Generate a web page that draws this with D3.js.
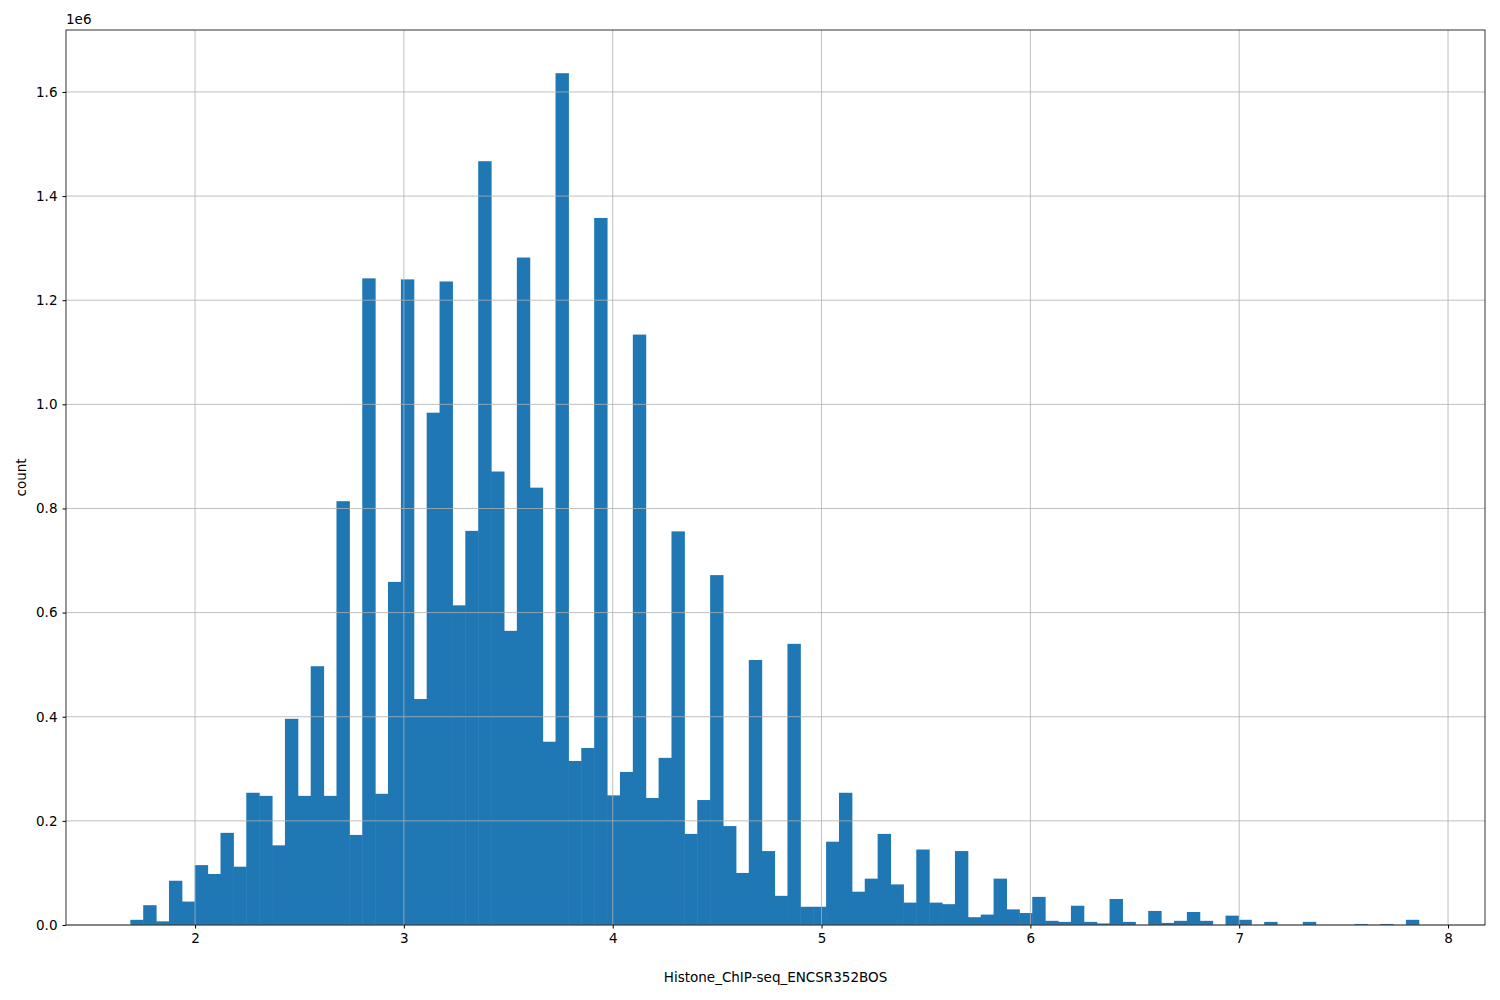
<!DOCTYPE html>
<html><head><meta charset="utf-8">
<script src="https://cdn.jsdelivr.net/npm/d3@7"></script>
<style>body{margin:0;background:#fff}text{font-family:"DejaVu Sans",sans-serif;font-size:13.5px}</style>
</head><body>
<svg width="1500" height="1000"></svg>
<script>
// histogram, 100 bins from binStart to binEnd; counts in millions
var binStart = 1.69;
var binEnd = 7.86;
var counts = [0.010,0.038,0.007,0.085,0.045,0.115,0.098,0.177,0.112,0.254,
  0.248,0.153,0.396,0.248,0.497,0.248,0.814,0.173,1.242,0.252,
  0.659,1.240,0.434,0.984,1.236,0.614,0.757,1.467,0.871,0.565,
  1.282,0.840,0.352,1.636,0.315,0.340,1.358,0.249,0.294,1.134,
  0.244,0.321,0.756,0.175,0.240,0.672,0.190,0.100,0.509,0.142,
  0.056,0.540,0.035,0.035,0.160,0.254,0.064,0.089,0.175,0.078,
  0.043,0.145,0.043,0.040,0.142,0.015,0.020,0.089,0.030,0.023,
  0.054,0.008,0.006,0.037,0.006,0.003,0.050,0.006,0,0.027,
  0.004,0.008,0.025,0.008,0,0.018,0.010,0,0.006,0,
  0,0.006,0,0,0,0.002,0,0.002,0,0.010];
var xTicks = [2,3,4,5,6,7,8];
var yTicks = [0,0.2,0.4,0.6,0.8,1.0,1.2,1.4,1.6];

var svg = d3.select('svg');
var mLeft = 66, mRight = 1485, mTop = 30, mBottom = 925;
var binWidth = (binEnd - binStart) / counts.length;

var x = d3.scaleLinear().domain([1.382, 8.177]).range([mLeft, mRight]);
var y = d3.scaleLinear().domain([0, 1.719]).range([mBottom, mTop]);

var bins = counts.map(function(c, i) {
  return {x0: binStart + i * binWidth, x1: binStart + (i + 1) * binWidth, v: c};
});

svg.append('g').selectAll('rect').data(bins).enter().append('rect')
  .attr('x', function(d) { return x(d.x0); })
  .attr('width', function(d) { return x(d.x1) - x(d.x0) + 0.5; })
  .attr('y', function(d) { return y(d.v); })
  .attr('height', function(d) { return mBottom - y(d.v); })
  .attr('fill', '#1f77b4');

// grid drawn over bars like matplotlib hist defaults
var grid = svg.append('g').attr('stroke', '#b0b0b0').attr('stroke-width', 0.8);
grid.selectAll('.gx').data(xTicks).enter().append('line')
  .attr('x1', x).attr('x2', x).attr('y1', mTop).attr('y2', mBottom);
grid.selectAll('.gy').data(yTicks).enter().append('line')
  .attr('y1', y).attr('y2', y).attr('x1', mLeft).attr('x2', mRight);

var xAxis = svg.append('g').attr('transform', 'translate(0,' + mBottom + ')')
  .call(d3.axisBottom(x).tickValues(xTicks).tickSize(3.5).tickPadding(5).tickFormat(d3.format('d')));
var yAxis = svg.append('g').attr('transform', 'translate(' + mLeft + ',0)')
  .call(d3.axisLeft(y).tickValues(yTicks).tickSize(3.5).tickPadding(5).tickFormat(d3.format('.1f')));
[xAxis, yAxis].forEach(function(a) {
  a.select('.domain').remove();
  a.selectAll('text').style('font-size', '13.5px').style('font-family', '"DejaVu Sans",sans-serif').attr('fill', '#000');
});

svg.append('rect').attr('x', mLeft).attr('y', mTop).attr('width', mRight - mLeft).attr('height', mBottom - mTop)
  .attr('fill', 'none').attr('stroke', '#000').attr('stroke-width', 0.8);

svg.append('text').attr('x', mLeft).attr('y', mTop - 6).text('1e6');
svg.append('text').attr('x', (mLeft + mRight) / 2).attr('y', 982).attr('text-anchor', 'middle')
  .text('Histone_ChIP-seq_ENCSR352BOS');
svg.append('text').attr('transform', 'translate(26,' + (mTop + mBottom) / 2 + ') rotate(-90)')
  .attr('text-anchor', 'middle').text('count');
</script>
</body></html>
